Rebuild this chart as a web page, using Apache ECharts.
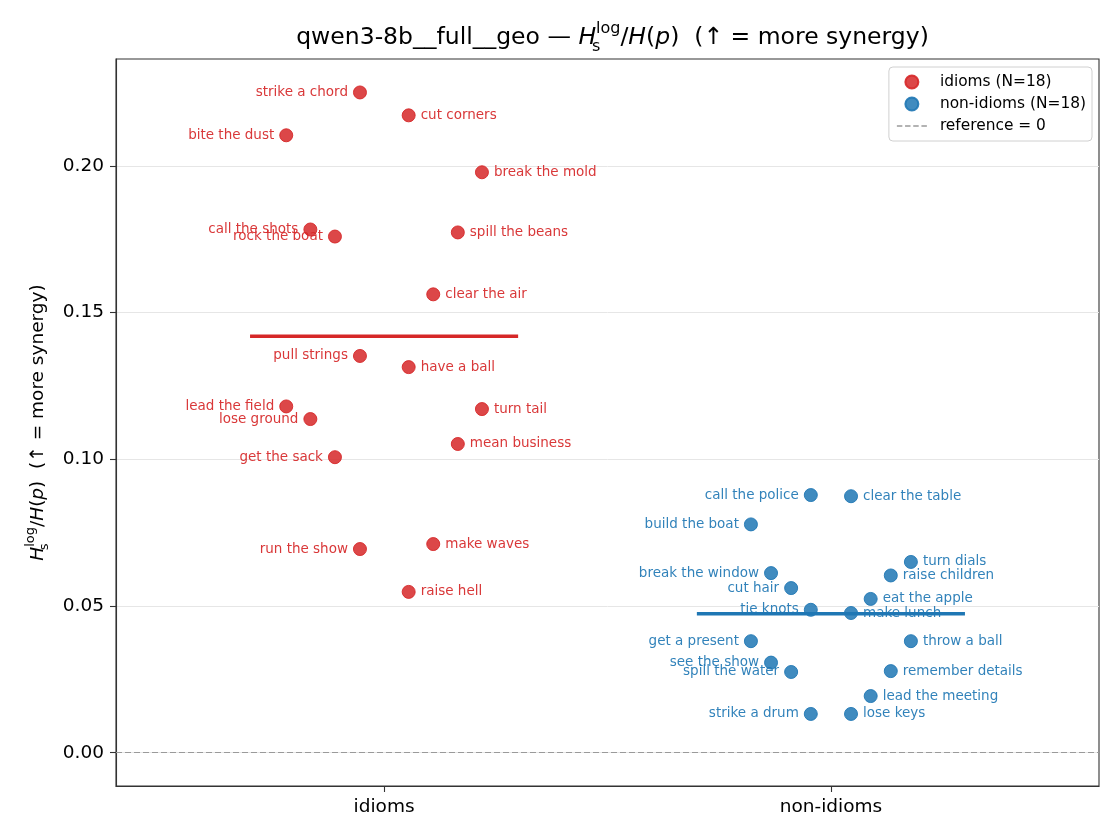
<!DOCTYPE html>
<html>
<head>
<meta charset="utf-8">
<script src="https://cdn.jsdelivr.net/npm/echarts@6/dist/echarts.min.js"></script>
<style>html,body{margin:0;padding:0;background:#fff;}#c{width:1120px;height:840px;}</style>
</head>
<body>
<div id="c"></div>
<script>
const categories = ['idioms', 'non-idioms'];

const idiomNames = ['strike a chord','cut corners','bite the dust','break the mold','call the shots','spill the beans','rock the boat','clear the air','pull strings','have a ball','lead the field','turn tail','lose ground','mean business','get the sack','make waves','run the show','raise hell'];
const idiomValues = [0.2250,0.2172,0.2104,0.1978,0.1783,0.1773,0.1759,0.1562,0.1352,0.1314,0.1180,0.1171,0.1137,0.1052,0.1007,0.0711,0.0694,0.0548];
const idiomJitter = [-0.054,0.055,-0.219,0.219,-0.165,0.165,-0.110,0.110,-0.054,0.055,-0.219,0.219,-0.165,0.165,-0.110,0.110,-0.054,0.055];

const nonIdiomNames = ['call the police','clear the table','build the boat','turn dials','break the window','raise children','cut hair','eat the apple','tie knots','make lunch','get a present','throw a ball','see the show','spill the water','remember details','lead the meeting','strike a drum','lose keys'];
const nonIdiomValues = [0.0878,0.0874,0.0778,0.0650,0.0612,0.0604,0.0561,0.0524,0.0487,0.0476,0.0380,0.0380,0.0307,0.0275,0.0278,0.0193,0.0132,0.0132];
const nonIdiomJitter = [-0.045,0.045,-0.179,0.179,-0.134,0.134,-0.089,0.089,-0.045,0.045,-0.179,0.179,-0.134,-0.089,0.134,0.089,-0.045,0.045];

const yTicks = [0.00, 0.05, 0.10, 0.15, 0.20];
const referenceValue = 0;

const FONT = 'DejaVu Sans';
const RED = '#d62728', BLUE = '#1f77b4';
const REDA = 'rgba(214,39,40,0.85)', BLUEA = 'rgba(31,119,180,0.85)';

function mean(a){ return a.reduce((s,v)=>s+v,0)/a.length; }

function pointData(names, values, jitter, catIndex){
  return values.map((v,i)=>({
    name: names[i],
    value: [catIndex + jitter[i], v],
    label: { position: jitter[i] < 0 ? 'left' : 'right' }
  }));
}

function richSet(main, small, raise){
  const base = {fontFamily: FONT, fontWeight: 'normal', color: '#000'};
  return {
    n: Object.assign({fontSize: main, lineHeight: main + raise*2}, base),
    i: Object.assign({fontSize: main, fontStyle: 'italic', lineHeight: main + raise*2}, base),
    sub: Object.assign({fontSize: small, lineHeight: small, verticalAlign: 'bottom', width: 0}, base),
    sup: Object.assign({fontSize: small, lineHeight: small, verticalAlign: 'top'}, base)
  };
}

const halfWidth = 0.3;
const idiomMean = mean(idiomValues), nonIdiomMean = mean(nonIdiomValues);
const legendIdioms = categories[0] + ' (N=' + idiomValues.length + ')';
const legendNon = categories[1] + ' (N=' + nonIdiomValues.length + ')';
const legendRef = 'reference = ' + referenceValue;

const dashIcon = 'path://M0,0h6v1.6h-6z M9,0h6v1.6h-6z M18,0h6v1.6h-6z M27,0h6v1.6h-6z';

const chart = echarts.init(document.getElementById('c'), null, {renderer: 'canvas'});
chart.setOption({
  animation: false,
  backgroundColor: '#fff',
  title: {
    text: '{n|qwen3-8b__full__geo — }{i|H}{sub|s}{sup|log}{n|/}{i|H}{n|(}{i|p}{n|)  (↑ = more synergy)}',
    left: 607.5, textAlign: 'center', top: 16,
    textStyle: {fontWeight: 'normal', rich: richSet(23.5, 16, 5)}
  },
  legend: {
    orient: 'vertical', right: 28, top: 67,
    data: [
      {name: legendIdioms, icon: 'circle'},
      {name: legendNon, icon: 'circle'},
      {name: legendRef, icon: dashIcon}
    ],
    itemWidth: 30, itemHeight: 13, itemGap: 6,
    textStyle: {fontFamily: FONT, fontSize: 15.4, color: '#000', lineHeight: 16, padding: [0,0,0,8]},
    padding: [7, 6, 7, 8],
    borderColor: '#d0d0d0', borderWidth: 1, borderRadius: 4,
    backgroundColor: 'rgba(255,255,255,0.85)',
    selectedMode: false
  },
  grid: {left: 116, right: 21, top: 59, bottom: 54, show: true, borderColor: '#333', borderWidth: 1.1, backgroundColor: 'transparent'},
  xAxis: {
    type: 'value', min: -0.6, max: 1.6,
    axisLine: {show: true, onZero: false, lineStyle: {color: '#333', width: 1.1}},
    axisTick: {show: true, customValues: [0, 1], length: 6, lineStyle: {color: '#333', width: 1.1}},
    axisLabel: {customValues: [0, 1], formatter: v => categories[Math.round(v)], fontFamily: FONT, fontSize: 18.5, color: '#000', margin: 12},
    splitLine: {show: false}
  },
  yAxis: {
    type: 'value', min: -0.01135, max: 0.2364,
    name: '{i|H}{sub|s}{sup|log}{n|/}{i|H}{n|(}{i|p}{n|)  (↑ = more synergy)}',
    nameLocation: 'middle', nameGap: 65, nameRotate: 90,
    nameTextStyle: {fontWeight: 'normal', rich: richSet(18.5, 13, 4)},
    axisLine: {show: true, onZero: false, lineStyle: {color: '#333', width: 1.1}},
    axisTick: {show: true, customValues: yTicks, length: 6, lineStyle: {color: '#333', width: 1.1}},
    axisLabel: {customValues: yTicks, formatter: v => v.toFixed(2), fontFamily: FONT, fontSize: 18.5, color: '#000', margin: 12},
    splitLine: {show: false}
  },
  series: [
    {
      name: 'grid', type: 'line', data: [], z: 0, silent: true,
      markLine: {silent: true, z: 0, symbol: 'none', label: {show: false},
        lineStyle: {color: '#e6e6e6', width: 1, type: 'solid'},
        data: yTicks.map(t => ({yAxis: t}))}
    },
    {
      name: legendRef, type: 'line', data: [], z: 1, color: '#9a9a9a', symbol: 'none',
      lineStyle: {color: '#9a9a9a', type: [6, 3], width: 1.2},
      markLine: {silent: true, z: 1, symbol: 'none', label: {show: false},
        lineStyle: {color: '#9a9a9a', width: 1.2, type: [6, 3]},
        data: [{yAxis: referenceValue}]}
    },
    {
      name: legendIdioms, type: 'scatter', z: 2, symbolSize: 13,
      itemStyle: {color: REDA, borderColor: 'rgba(214,39,40,0.9)', borderWidth: 1, opacity: 1},
      label: {show: true, formatter: '{b}', fontFamily: FONT, fontSize: 13.5, color: 'rgba(214,39,40,0.92)', distance: 5},
      data: pointData(idiomNames, idiomValues, idiomJitter, 0)
    },
    {
      name: legendNon, type: 'scatter', z: 2, symbolSize: 13,
      itemStyle: {color: BLUEA, borderColor: 'rgba(31,119,180,0.9)', borderWidth: 1, opacity: 1},
      label: {show: true, formatter: '{b}', fontFamily: FONT, fontSize: 13.5, color: 'rgba(31,119,180,0.92)', distance: 5},
      data: pointData(nonIdiomNames, nonIdiomValues, nonIdiomJitter, 1)
    },
    {
      name: 'idioms mean', type: 'line', z: 5, symbol: 'none', silent: true,
      lineStyle: {color: RED, width: 3.6}, color: RED,
      data: [[0 - halfWidth, idiomMean], [0 + halfWidth, idiomMean]]
    },
    {
      name: 'non-idioms mean', type: 'line', z: 5, symbol: 'none', silent: true,
      lineStyle: {color: BLUE, width: 3.6}, color: BLUE,
      data: [[1 - halfWidth, nonIdiomMean], [1 + halfWidth, nonIdiomMean]]
    }
  ]
});
</script>
</body>
</html>
